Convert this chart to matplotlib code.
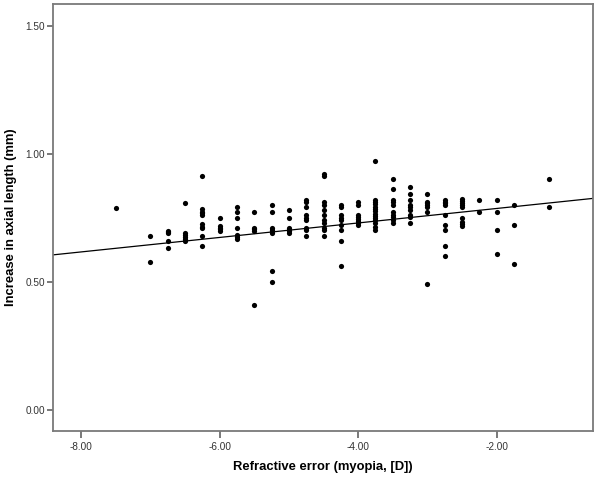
import matplotlib
matplotlib.use("Agg")
import matplotlib.pyplot as plt

plt.rcParams['font.family'] = ['Liberation Sans', 'DejaVu Sans']

# refractive error columns (D) and the axial length increase values in each
refraction = [-7.5, -7.0, -6.75, -6.5, -6.25, -6.0, -5.75, -5.5, -5.25, -5.0,
              -4.75, -4.5, -4.25, -4.0, -3.75, -3.5, -3.25, -3.0, -2.75, -2.5,
              -2.25, -2.0, -1.75, -1.25]
increase = [
    [0.79],
    [0.68, 0.58],
    [0.70, 0.695, 0.69, 0.66, 0.632],
    [0.81, 0.693, 0.685, 0.677, 0.669, 0.661],
    [0.913, 0.784, 0.775, 0.768, 0.762, 0.725, 0.716, 0.71, 0.681, 0.641],
    [0.751, 0.719, 0.712, 0.706, 0.699],
    [0.793, 0.772, 0.751, 0.711, 0.682, 0.676, 0.669],
    [0.772, 0.712, 0.707, 0.70, 0.411],
    [0.802, 0.772, 0.711, 0.704, 0.698, 0.691, 0.542, 0.501],
    [0.781, 0.751, 0.711, 0.704, 0.698, 0.691],
    [0.821, 0.8125, 0.792, 0.76, 0.751, 0.742, 0.711, 0.703, 0.681],
    [0.921, 0.913, 0.8125, 0.802, 0.781, 0.762, 0.742, 0.732, 0.711, 0.703, 0.681],
    [0.80, 0.792, 0.76, 0.751, 0.742, 0.721, 0.703, 0.661, 0.561],
    [0.811, 0.802, 0.762, 0.753, 0.745, 0.737, 0.729, 0.721],
    [0.973, 0.821, 0.8125, 0.803, 0.794, 0.785, 0.776, 0.767, 0.758, 0.75,
     0.742, 0.732, 0.714, 0.703],
    [0.902, 0.862, 0.821, 0.8125, 0.802, 0.772, 0.762, 0.753, 0.742, 0.732],
    [0.872, 0.843, 0.821, 0.802, 0.792, 0.781, 0.762, 0.753, 0.732],
    [0.843, 0.814, 0.807, 0.80, 0.794, 0.773, 0.491],
    [0.821, 0.814, 0.807, 0.80, 0.762, 0.721, 0.702, 0.641, 0.60],
    [0.823, 0.815, 0.807, 0.80, 0.794, 0.751, 0.733, 0.727, 0.72],
    [0.821, 0.772],
    [0.821, 0.772, 0.702, 0.611],
    [0.802, 0.721, 0.570],
    [0.902, 0.792],
]

# fit line: y = intercept + slope * x
fit_intercept = 0.844
fit_slope = 0.0283

xticks = [-8.0, -6.0, -4.0, -2.0]
yticks = [0.0, 0.5, 1.0, 1.5]

xs = []
ys = []
for r, vals in zip(refraction, increase):
    for v in vals:
        xs.append(r)
        ys.append(v)

fig = plt.figure(figsize=(6.0, 4.79), dpi=100)
ax = fig.add_axes([0.0889, 0.0996, 0.8994, 0.892])

xlim = (-8.40, -0.61)
ax.plot(xlim, [fit_intercept + fit_slope * x for x in xlim], color='black', lw=0.9, zorder=2)
ax.scatter(xs, ys, s=14, color='black', linewidths=0, zorder=3)

ax.set_xlim(xlim)
ax.set_ylim(-0.083, 1.586)
ax.set_xticks(xticks)
ax.set_yticks(yticks)
ax.set_xticklabels(['%.2f' % t for t in xticks])
ax.set_yticklabels(['%.2f' % t for t in yticks])

for s in ax.spines.values():
    s.set_color('#7a7a7a')
    s.set_linewidth(1.3)
ax.tick_params(axis='both', direction='out', length=4, width=1.1, color='#555555',
               labelsize=7.2, labelcolor='#333333', pad=2)
ax.tick_params(axis='x', length=5, pad=3)

ax.set_xlabel('Refractive error (myopia, [D])', fontsize=9.4, fontweight='bold', labelpad=6)
ax.set_ylabel('Increase in axial length (mm)', fontsize=9.4, fontweight='bold', labelpad=6)

fig.savefig('out.png', dpi=100)
